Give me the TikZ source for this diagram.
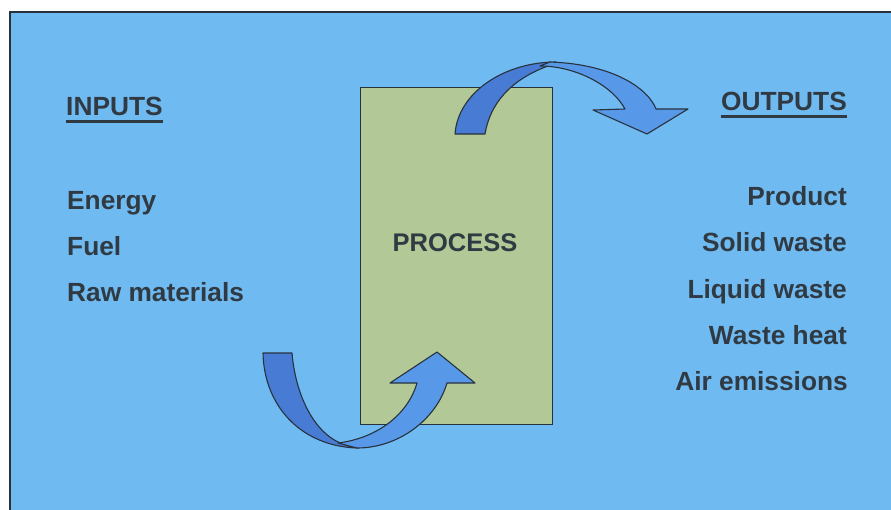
\documentclass[tikz,border=0pt]{standalone}
\usepackage{fontspec}
\setmainfont{Liberation Sans}
\begin{document}
\begin{tikzpicture}[x=1pt,y=-1pt,
  label/.style={font=\bfseries\fontsize{26.3}{30}\selectfont, text=txt, inner sep=0pt},
  inlabel/.style={label, anchor=base west},
  outlabel/.style={label, anchor=base east},
  underline/.style={txt, line width=2.3pt},
  darkband/.style={fill=arrowdark, draw=edge, line width=1.1pt, line join=round},
  lightband/.style={fill=arrowlight, draw=edge, line width=1.1pt, line join=round}]
\definecolor{bg}{RGB}{112,186,242}
\definecolor{procfill}{RGB}{178,200,150}
\definecolor{arrowdark}{RGB}{72,124,212}
\definecolor{arrowlight}{RGB}{88,152,232}
\definecolor{edge}{RGB}{40,50,60}
\definecolor{txt}{RGB}{48,58,66}
\useasboundingbox (0,0) rectangle (891,509);
\fill[white] (0,0) rectangle (891,509);
% panel
\fill[bg] (10,12) rectangle (893,511);
\draw[edge, line width=1.4pt] (10,511) -- (10,12) -- (893,12);

% process box
\node[draw=edge, fill=procfill, line width=1pt, minimum width=192pt, minimum height=337pt, inner sep=0pt] (proc) at (456,255.5) {};
\node[label, font=\bfseries\fontsize{25.5}{30}\selectfont, anchor=base] (proctext) at (455,251.5) {PROCESS};

% inputs column
\node[inlabel] (inputs) at (66,115) {INPUTS};
\draw[underline] ([yshift=-6.5pt]inputs.base west) -- ([yshift=-6.5pt]inputs.base east);
\node[inlabel] (energy) at (67,209) {Energy};
\node[inlabel] (fuel) at (67,255) {Fuel};
\node[inlabel] (raw) at (67,301.5) {Raw materials};

% outputs column
\node[outlabel] (outputs) at (847,110) {OUTPUTS};
\draw[underline] ([yshift=-6.5pt]outputs.base west) -- ([yshift=-6.5pt]outputs.base east);
\node[outlabel] (product) at (847,205) {Product};
\node[outlabel] (solid) at (847,251.5) {Solid waste};
\node[outlabel] (liquid) at (847,298) {Liquid waste};
\node[outlabel] (heat) at (847,344.5) {Waste heat};
\node[outlabel] (air) at (848,390) {Air emissions};

% lower curved arrow into the process
\draw[darkband] (263,353) -- (292,353)
  .. controls (296,400) and (318,440) .. (350,446)
  -- (357,448)
  .. controls (300,446) and (264,405) .. cycle;
\draw[lightband] (338,443)
  .. controls (378,438) and (408,414) .. (417,383)
  -- (390,383) -- (437,352) -- (475,383) -- (447,383)
  .. controls (436,420) and (398,448) .. (357,448)
  -- cycle;

% upper curved arrow out of the process
\draw[darkband] (455,134) -- (485,134)
  .. controls (490,104) and (510,80) .. (548,66)
  -- (556,62)
  .. controls (505,62) and (458,92) .. cycle;
\draw[lightband] (540,66)
  .. controls (575,66) and (612,85) .. (625,109)
  -- (593,110) -- (647,134) -- (688,109) -- (656,109)
  .. controls (648,88) and (612,64) .. (550,62)
  -- cycle;
\end{tikzpicture}
\end{document}
